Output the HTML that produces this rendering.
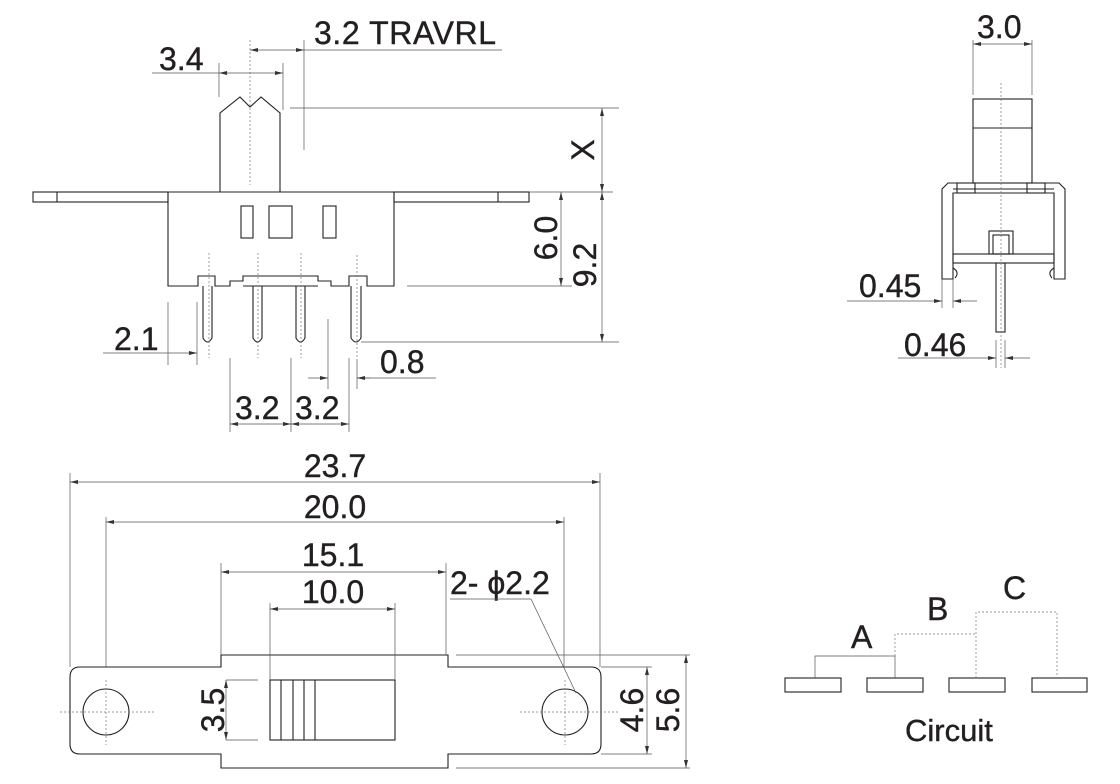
<!DOCTYPE html>
<html><head><meta charset="utf-8"><style>
html,body{margin:0;padding:0;background:#fff;}
svg{display:block;}
text{font-family:"Liberation Sans",sans-serif;font-size:32px;fill:#231f20;stroke:#231f20;stroke-width:0.4;}
.o{fill:none;stroke:#231f20;stroke-width:1.1;}
.d{fill:none;stroke:#555;stroke-width:0.7;}
.c{fill:none;stroke:#777;stroke-width:0.7;stroke-dasharray:2 2;}
</style></head><body>
<svg width="1120" height="784" viewBox="0 0 1120 784" xmlns="http://www.w3.org/2000/svg">
<defs>
<marker id="a" viewBox="0 0 8 6" refX="8" refY="3" markerWidth="8" markerHeight="6" orient="auto-start-reverse" markerUnits="userSpaceOnUse"><path d="M0,1 L8,3 L0,5z" fill="#333"/></marker>
</defs>

<!-- FRONT VIEW -->
<rect class="o" x="33" y="192" width="135" height="10"/>
<line class="o" x1="57" y1="192" x2="57" y2="202"/>
<rect class="o" x="394" y="192" width="135" height="10"/>
<line class="o" x1="498" y1="192" x2="498" y2="202"/>
<path class="o" d="M220,192 L220,113 L240,97 L250,107 L261,97 L280,113 L280,192"/>
<path class="o" d="M168,192 L394,192 L394,286 L367,286 L367,276 L349,276 L349,286 L331,286 L331,281 L318,281 L318,276 L243,276 L243,281 L230,281 L230,286 L215,286 L215,276 L198,276 L198,286 L168,286 Z"/>
<line class="o" x1="243" y1="286" x2="318" y2="286"/>
<rect class="o" x="241" y="206" width="12" height="32"/>
<rect class="o" x="269" y="206" width="23" height="32"/>
<rect class="o" x="323" y="206" width="13" height="32"/>
<path class="o" d="M203,286 L203,338 Q207.5,346 212,338 L212,286"/>
<path class="o" d="M253,286 L253,338 Q257.5,346 262,338 L262,286"/>
<path class="o" d="M296,286 L296,338 Q300.5,346 305,338 L305,286"/>
<path class="o" d="M351,286 L351,338 Q356,346 361,338 L361,286"/>
<line class="c" x1="209" y1="253" x2="209" y2="358"/>
<line class="c" x1="258" y1="253" x2="258" y2="358"/>
<line class="c" x1="301" y1="253" x2="301" y2="358"/>
<line class="c" x1="357" y1="255" x2="357" y2="358"/>
<line class="c" x1="250" y1="40" x2="250" y2="185"/>

<!-- dims front -->
<line class="d" x1="219" y1="63" x2="219" y2="97"/>
<line class="d" x1="283" y1="63" x2="283" y2="110"/>
<line class="d" x1="152" y1="73" x2="219" y2="73"/>
<line class="d" x1="219" y1="73" x2="283" y2="73" marker-start="url(#a)" marker-end="url(#a)"/>
<text x="159" y="70">3.4</text>
<line class="d" x1="304" y1="40" x2="304" y2="150"/>
<line class="d" x1="250" y1="50" x2="304" y2="50" marker-start="url(#a)" marker-end="url(#a)"/>
<line class="d" x1="304" y1="50" x2="502" y2="50"/>
<text x="314" y="44" textLength="182">3.2 TRAVRL</text>
<line class="d" x1="290" y1="108" x2="619" y2="108"/>
<line class="d" x1="529" y1="192" x2="613" y2="192"/>
<line class="d" x1="407" y1="286" x2="572" y2="286"/>
<line class="d" x1="361" y1="342" x2="619" y2="342"/>
<line class="d" x1="602" y1="108" x2="602" y2="192" marker-start="url(#a)" marker-end="url(#a)"/>
<line class="d" x1="602" y1="192" x2="602" y2="342" marker-start="url(#a)" marker-end="url(#a)"/>
<line class="d" x1="561" y1="192" x2="561" y2="286" marker-start="url(#a)" marker-end="url(#a)"/>
<text transform="translate(594,150) rotate(-90)" text-anchor="middle">X</text>
<text transform="translate(557,238) rotate(-90)" text-anchor="middle">6.0</text>
<text transform="translate(596,265) rotate(-90)" text-anchor="middle">9.2</text>
<line class="d" x1="168" y1="302" x2="168" y2="365"/>
<line class="d" x1="197" y1="302" x2="197" y2="365"/>
<line class="d" x1="103" y1="353" x2="168" y2="353"/>
<line class="d" x1="168" y1="353" x2="197" y2="353" marker-end="url(#a)"/>
<text x="114" y="350">2.1</text>
<line class="d" x1="328" y1="319" x2="328" y2="389"/>
<line class="d" x1="357" y1="359" x2="357" y2="389"/>
<line class="d" x1="308" y1="378" x2="328" y2="378" marker-end="url(#a)"/>
<line class="d" x1="357" y1="378" x2="436" y2="378"/>
<line class="d" x1="370" y1="378" x2="357" y2="378" marker-end="url(#a)"/>
<text x="380" y="373">0.8</text>
<line class="d" x1="230" y1="358" x2="230" y2="432"/>
<line class="d" x1="291" y1="358" x2="291" y2="432"/>
<line class="d" x1="349" y1="358" x2="349" y2="432"/>
<line class="d" x1="230" y1="424" x2="291" y2="424" marker-start="url(#a)" marker-end="url(#a)"/>
<line class="d" x1="291" y1="424" x2="349" y2="424" marker-start="url(#a)" marker-end="url(#a)"/>
<text x="235" y="419">3.2</text>
<text x="295" y="419">3.2</text>

<!-- SIDE VIEW -->
<rect class="o" x="973" y="99" width="59" height="84"/>
<line class="o" x1="973" y1="128" x2="1032" y2="128"/>
<path class="o" d="M942,279 L942,189 L948,183 L1059,183 L1065,189 L1065,279 L1054,279 L1054,193 L953,193 L953,279 Z"/>
<line class="o" x1="953" y1="189" x2="1054" y2="189"/>
<rect class="o" x="957" y="183" width="18" height="10"/>
<rect class="o" x="1027" y="183" width="18" height="10"/>
<rect class="o" x="953" y="254" width="101" height="9"/>
<rect class="o" x="989" y="231" width="24" height="23"/>
<rect class="o" x="993" y="235" width="16" height="19"/>
<rect class="o" x="996" y="263" width="9" height="69"/>
<path class="o" d="M953,268 Q960,272 955,278"/>
<path class="o" d="M1054,268 Q1047,272 1052,278"/>
<line class="c" x1="1001" y1="83" x2="1001" y2="368"/>
<line class="d" x1="973" y1="40" x2="973" y2="95"/>
<line class="d" x1="1032" y1="40" x2="1032" y2="95"/>
<line class="d" x1="973" y1="44" x2="1032" y2="44" marker-start="url(#a)" marker-end="url(#a)"/>
<text x="977" y="38">3.0</text>
<line class="d" x1="942" y1="279" x2="942" y2="308"/>
<line class="d" x1="953" y1="279" x2="953" y2="308"/>
<line class="d" x1="847" y1="301" x2="942" y2="301" marker-end="url(#a)"/>
<line class="d" x1="977" y1="301" x2="953" y2="301" marker-end="url(#a)"/>
<text x="859" y="297">0.45</text>
<line class="d" x1="996" y1="340" x2="996" y2="368"/>
<line class="d" x1="1005" y1="340" x2="1005" y2="368"/>
<line class="d" x1="898" y1="358" x2="996" y2="358" marker-end="url(#a)"/>
<line class="d" x1="1030" y1="358" x2="1005" y2="358" marker-end="url(#a)"/>
<text x="904" y="356">0.46</text>

<!-- BOTTOM VIEW -->
<path class="o" d="M221,655 L448,655 L448,667 L591,667 Q601,667 601,677 L601,744 Q601,754 591,754 L448,754 L448,768 L221,768 L221,754 L80,754 Q70,754 70,744 L70,677 Q70,667 80,667 L221,667 Z"/>
<circle class="o" cx="106" cy="712" r="23"/>
<circle class="o" cx="565" cy="712" r="23"/>
<rect class="o" x="270" y="680" width="125" height="60"/>
<line class="o" x1="281" y1="680" x2="281" y2="740"/>
<line class="o" x1="293" y1="680" x2="293" y2="740"/>
<line class="o" x1="304" y1="680" x2="304" y2="740"/>
<line class="o" x1="315" y1="680" x2="315" y2="740"/>
<line class="c" x1="60" y1="712" x2="155" y2="712"/>
<line class="c" x1="520" y1="712" x2="618" y2="712"/>
<line class="c" x1="106" y1="680" x2="106" y2="745"/>
<line class="c" x1="565" y1="680" x2="565" y2="745"/>
<!-- bottom dims -->
<line class="d" x1="70" y1="473" x2="70" y2="667"/>
<line class="d" x1="600" y1="473" x2="600" y2="667"/>
<line class="d" x1="70" y1="482" x2="600" y2="482" marker-start="url(#a)" marker-end="url(#a)"/>
<text x="335" y="477" text-anchor="middle">23.7</text>
<line class="d" x1="106" y1="517" x2="106" y2="667"/>
<line class="d" x1="564" y1="517" x2="564" y2="667"/>
<line class="d" x1="106" y1="522" x2="564" y2="522" marker-start="url(#a)" marker-end="url(#a)"/>
<text x="335" y="518" text-anchor="middle">20.0</text>
<line class="d" x1="221" y1="563" x2="221" y2="655"/>
<line class="d" x1="446" y1="563" x2="446" y2="655"/>
<line class="d" x1="221" y1="572" x2="446" y2="572" marker-start="url(#a)" marker-end="url(#a)"/>
<text x="333" y="566" text-anchor="middle">15.1</text>
<line class="d" x1="270" y1="603" x2="270" y2="680"/>
<line class="d" x1="395" y1="603" x2="395" y2="680"/>
<line class="d" x1="270" y1="609" x2="395" y2="609" marker-start="url(#a)" marker-end="url(#a)"/>
<text x="333" y="603" text-anchor="middle">10.0</text>
<text x="450" y="594">2- ϕ2.2</text>
<line class="d" x1="450" y1="599" x2="531" y2="599"/>
<line class="d" x1="531" y1="599" x2="576" y2="693"/>
<line class="d" x1="226" y1="680" x2="258" y2="680"/>
<line class="d" x1="226" y1="740" x2="258" y2="740"/>
<line class="d" x1="226" y1="680" x2="226" y2="740" marker-start="url(#a)" marker-end="url(#a)"/>
<text transform="translate(224,710) rotate(-90)" text-anchor="middle">3.5</text>
<line class="d" x1="601" y1="667" x2="652" y2="667"/>
<line class="d" x1="601" y1="754" x2="652" y2="754"/>
<line class="d" x1="647" y1="667" x2="647" y2="754" marker-start="url(#a)" marker-end="url(#a)"/>
<text transform="translate(643,710) rotate(-90)" text-anchor="middle">4.6</text>
<line class="d" x1="456" y1="655" x2="690" y2="655"/>
<line class="d" x1="456" y1="768" x2="690" y2="768"/>
<line class="d" x1="686" y1="655" x2="686" y2="768" marker-start="url(#a)" marker-end="url(#a)"/>
<text transform="translate(679,710) rotate(-90)" text-anchor="middle">5.6</text>

<!-- CIRCUIT -->
<rect class="o" x="785" y="678" width="56" height="14"/>
<rect class="o" x="867" y="678" width="56" height="14"/>
<rect class="o" x="949" y="678" width="56" height="14"/>
<rect class="o" x="1032" y="678" width="55" height="14"/>
<path class="d" d="M815,678 L815,656 L895,656 L895,678"/>
<path class="c" d="M895,656 L895,634 L976,634 M976,678 L976,612 L1057,612 L1057,678"/>
<text x="851" y="648">A</text>
<text x="927" y="620">B</text>
<text x="1003" y="599">C</text>
<text x="905" y="741" style="font-size:31px">Circuit</text>
</svg>
</body></html>
